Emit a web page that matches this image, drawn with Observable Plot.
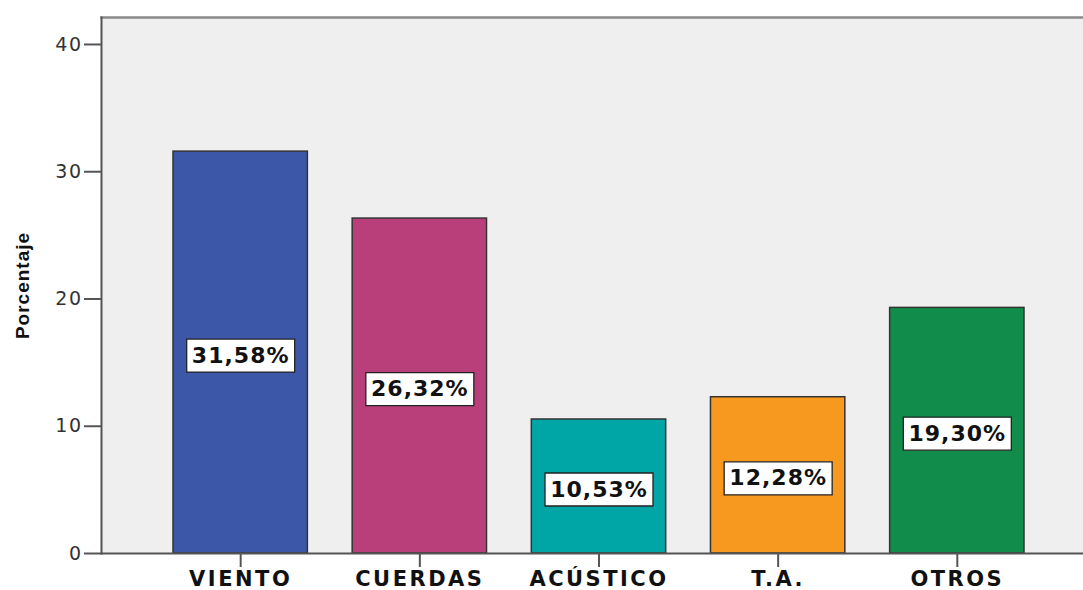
<!DOCTYPE html>
<html>
<head>
<meta charset="utf-8">
<script src="https://cdn.jsdelivr.net/npm/d3@7"></script>
<script src="https://cdn.jsdelivr.net/npm/@observablehq/plot@0.6"></script>
<style>
  html, body { margin: 0; padding: 0; background: #ffffff; }
  #chart svg { display: block; }
  g[aria-label="text"] text { letter-spacing: 1px; }
  g[aria-label="x-axis tick label"] text { letter-spacing: 2.5px; }
  g[aria-label="y-axis tick label"] text { letter-spacing: 1.5px; }
</style>
</head>
<body>
<div id="chart"></div>
<script>
const categories = ["VIENTO", "CUERDAS", "ACÚSTICO", "T.A.", "OTROS"];
const values = [31.58, 26.32, 10.53, 12.28, 19.30];
const valueLabels = ["31,58%", "26,32%", "10,53%", "12,28%", "19,30%"];
const colors = ["#3d57a8", "#b83f7a", "#00a5a5", "#f8991f", "#118c4a"];
const yTicks = [0, 10, 20, 30, 40];
const yMax = 42.12;
const yTitle = "Porcentaje";

const data = categories.map((c, i) => ({cat: c, v: values[i], label: valueLabels[i]}));

const boxSymbol = {
  draw(ctx) {
    const w = 54, h = 16.5;
    ctx.moveTo(-w, -h);
    ctx.lineTo(w, -h);
    ctx.lineTo(w, h);
    ctx.lineTo(-w, h);
    ctx.closePath();
  }
};

const font = "DejaVu Sans, Verdana, sans-serif";

const plot = Plot.plot({
  width: 1083,
  height: 590,
  marginLeft: 101,
  marginRight: 0,
  marginTop: 17,
  marginBottom: 37,
  style: {background: "#ffffff", fontFamily: font},
  x: {domain: categories, paddingInner: 0.25, paddingOuter: 0, insetLeft: 72, insetRight: 59, round: false, label: null},
  y: {domain: [0, yMax], label: null},
  color: {domain: categories, range: colors},
  marks: [
    Plot.frame({fill: "#efefef", stroke: null}),
    Plot.frame({anchor: "top", stroke: "#8a8a8a", strokeWidth: 2.5}),
    Plot.barY(data, {x: "cat", y: "v", fill: "cat", stroke: "#333333", strokeWidth: 1.5}),
    Plot.frame({anchor: "left", stroke: "#555555", strokeWidth: 2}),
    Plot.frame({anchor: "bottom", stroke: "#555555", strokeWidth: 2}),
    Plot.axisY({ticks: yTicks, tickSize: 17, tickPadding: 2, fontSize: 19, stroke: "#555555", strokeWidth: 2, fill: "#333333", label: null, fontFamily: font}),
    Plot.axisX({tickSize: 14, tickPadding: 4, fontSize: 21, fontWeight: "bold", stroke: "#555555", strokeWidth: 2, fill: "#111111", label: null, fontFamily: font}),
    Plot.dot(data, {x: "cat", y: d => d.v / 2, symbol: boxSymbol, fill: "#ffffff", stroke: "#222222", strokeWidth: 1.3, dy: 3}),
    Plot.text(data, {x: "cat", y: d => d.v / 2, text: "label", fontSize: 22, fontWeight: "bold", fontFamily: font, fill: "#111111", dy: 3}),
    Plot.text([yTitle], {frameAnchor: "left", textAnchor: "middle", text: d => d, rotate: -90, dx: -79, fontSize: 19, fontWeight: "bold", fontFamily: "Liberation Sans Narrow, Liberation Sans, Arial, sans-serif", fill: "#111111"})
  ]
});
document.getElementById("chart").appendChild(plot);
</script>
</body>
</html>
